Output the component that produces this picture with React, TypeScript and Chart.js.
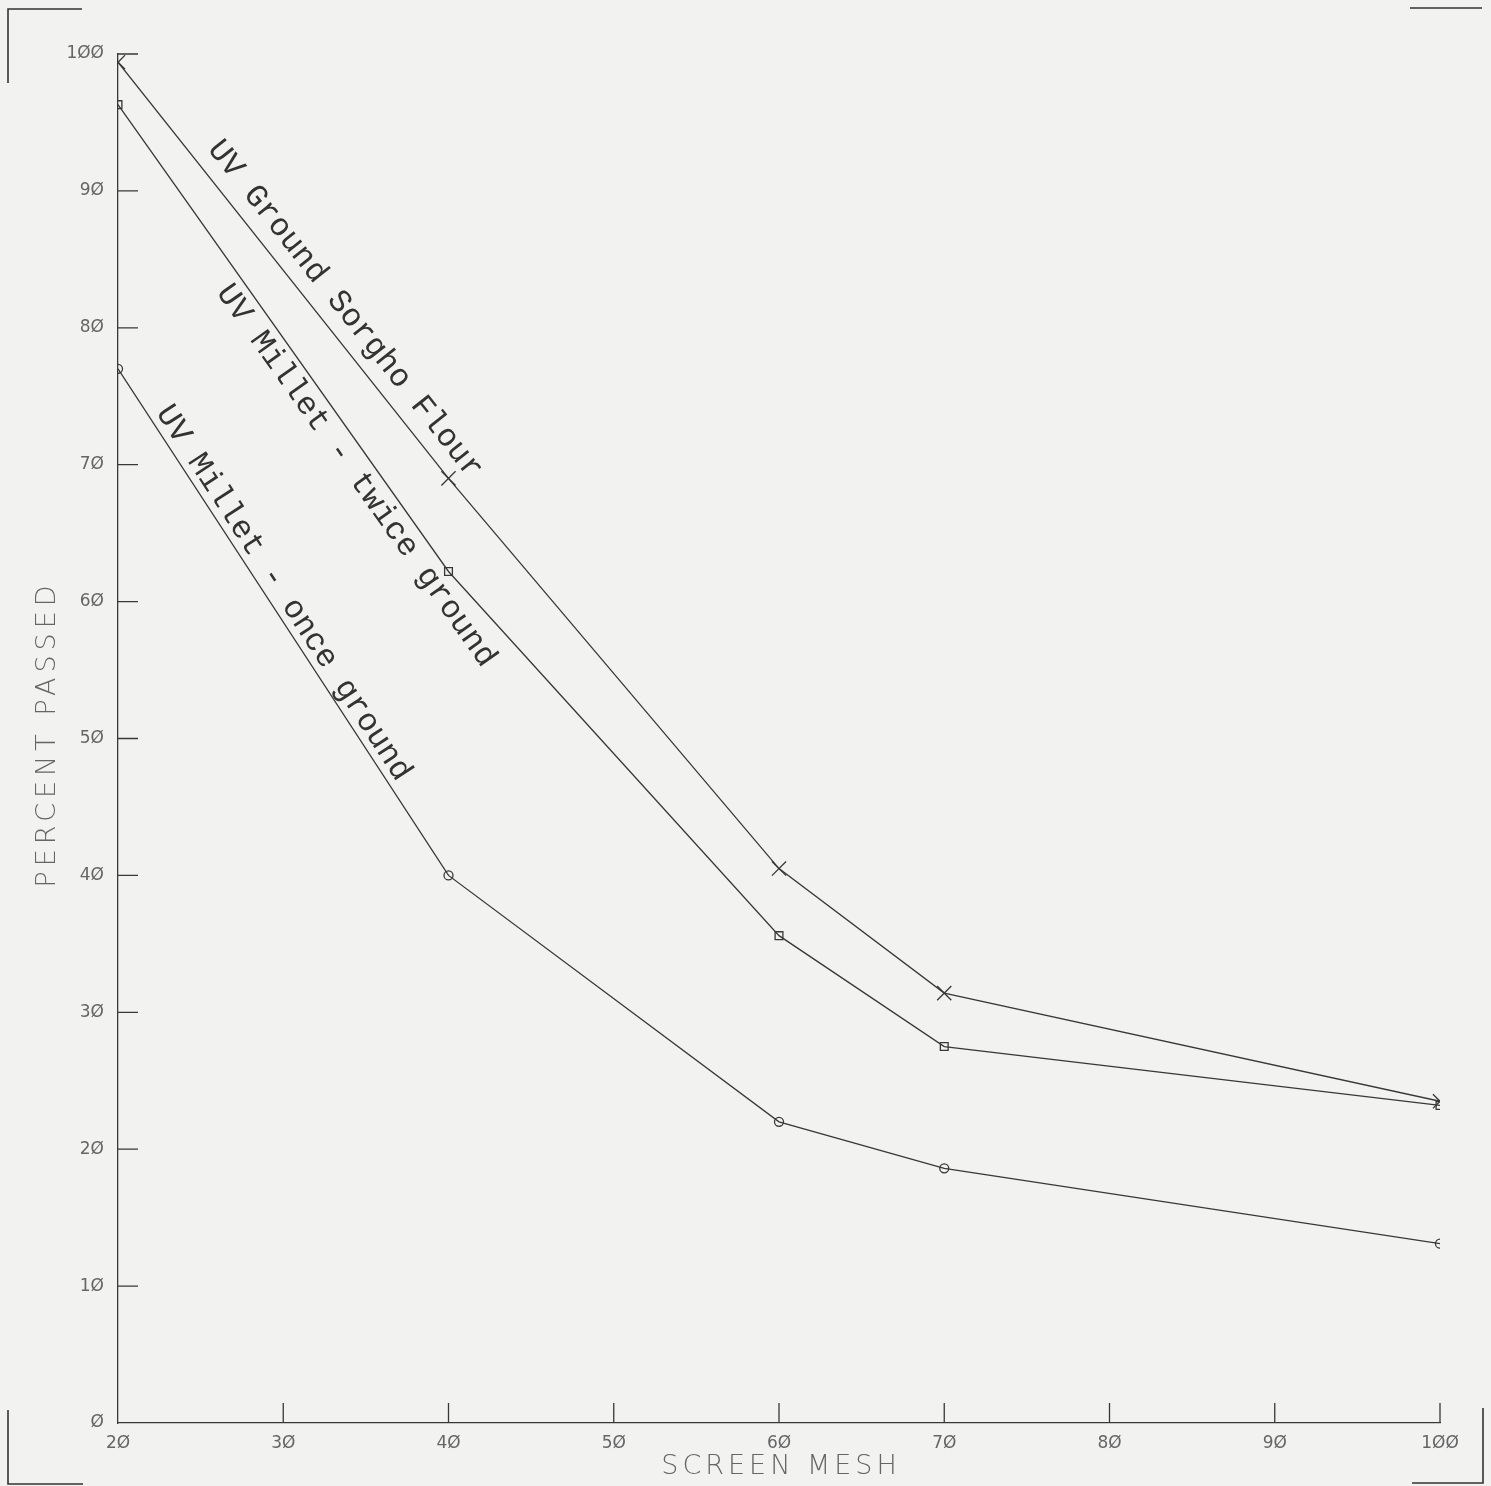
import { useEffect, useRef } from "react";
import { Chart, registerables } from "chart.js";

Chart.register(...registerables);

// ---- data ----
const meshSizes = [20, 40, 60, 70, 100];
const sorghoFlour = [99.4, 69.0, 40.5, 31.4, 23.5];
const milletTwice = [96.3, 62.2, 35.6, 27.5, 23.2];
const milletOnce = [77.0, 40.0, 22.0, 18.6, 13.1];
const xTickValues = [20, 30, 40, 50, 60, 70, 80, 90, 100];
const yTickValues = [0, 10, 20, 30, 40, 50, 60, 70, 80, 90, 100];
const seriesNames = ["UV Ground Sorgho Flour", "UV Millet - twice ground", "UV Millet - once ground"];
const xTitle = "SCREEN MESH";
const yTitle = "PERCENT PASSED";

const slashZero = (v: number) => String(v).replace(/0/g, "\u00D8");

const INK = "#383838";
const BG = "#f2f2f0";

// label placement along the first segment: fraction along, perpendicular offset (px, + = up-right)
const labelPlacement = [
  { frac: 0.63, offset: 24 },
  { frac: 0.77, offset: -20 },
  { frac: 0.46, offset: 16 },
];

const plotterPlugin = {
  id: "plotter",
  beforeDraw(chart: any) {
    const { ctx, width, height } = chart;
    ctx.save();
    ctx.fillStyle = BG;
    ctx.fillRect(0, 0, width, height);
    ctx.restore();
  },
  afterDraw(chart: any) {
    const { ctx, chartArea, scales } = chart;
    const xs = scales.x;
    const ys = scales.y;
    ctx.save();
    ctx.strokeStyle = INK;
    ctx.lineWidth = 1.3;
    // inward tick marks
    ctx.beginPath();
    yTickValues.forEach((v) => {
      if (v === 0) return;
      const y = ys.getPixelForValue(v);
      ctx.moveTo(chartArea.left, y);
      ctx.lineTo(chartArea.left + 20, y);
    });
    xTickValues.forEach((v) => {
      if (v === xTickValues[0]) return;
      const x = xs.getPixelForValue(v);
      ctx.moveTo(x, chartArea.bottom);
      ctx.lineTo(x, chartArea.bottom - 20);
    });
    ctx.stroke();

    // crop marks
    ctx.lineWidth = 1.6;
    ctx.strokeStyle = "#333";
    ctx.beginPath();
    ctx.moveTo(8, 83); ctx.lineTo(8, 9); ctx.lineTo(82, 9);
    ctx.moveTo(1410, 8); ctx.lineTo(1482, 8);
    ctx.moveTo(8, 1410); ctx.lineTo(8, 1484); ctx.lineTo(83, 1484);
    ctx.moveTo(1483, 1408); ctx.lineTo(1483, 1483); ctx.lineTo(1412, 1483);
    ctx.stroke();

    // axis titles
    ctx.fillStyle = "#666";
    ctx.font = "200 27px 'DejaVu Sans'";
    ctx.textAlign = "center";
    ctx.textBaseline = "middle";
    (ctx as any).letterSpacing = "4px";
    ctx.fillText(xTitle, (chartArea.left + chartArea.right) / 2 + 2, 1467);
    (ctx as any).letterSpacing = "5px";
    ctx.save();
    ctx.translate(48, 736);
    ctx.rotate(-Math.PI / 2);
    ctx.fillText(yTitle, 2, 0);
    ctx.restore();
    (ctx as any).letterSpacing = "0px";

    // series labels along lines
    ctx.fillStyle = "#333";
    ctx.font = "32px 'Liberation Mono'";
    chart.data.datasets.forEach((ds: any, i: number) => {
      const p = labelPlacement[i];
      const a = ds.data[0];
      const b = ds.data[1];
      const x0 = xs.getPixelForValue(a.x);
      const y0 = ys.getPixelForValue(a.y);
      const x1 = xs.getPixelForValue(b.x);
      const y1 = ys.getPixelForValue(b.y);
      const ang = Math.atan2(y1 - y0, x1 - x0);
      const cx = x0 + (x1 - x0) * p.frac + Math.sin(ang) * p.offset;
      const cy = y0 + (y1 - y0) * p.frac - Math.cos(ang) * p.offset;
      ctx.save();
      ctx.translate(cx, cy);
      ctx.rotate(ang);
      ctx.fillText(ds.label, 0, 0);
      ctx.restore();
    });
    ctx.restore();
  },
};

export default function App() {
  const ref = useRef<HTMLCanvasElement | null>(null);
  useEffect(() => {
    document.body.style.margin = "0";
    document.body.style.background = BG;
    const canvas = ref.current!;
    const toPts = (vals: number[]) => meshSizes.map((x, i) => ({ x, y: vals[i] }));
    const common = {
      borderColor: INK,
      borderWidth: 1.3,
      pointBorderColor: INK,
      pointBackgroundColor: "rgba(0,0,0,0)",
      pointBorderWidth: 1.3,
      tension: 0,
      fill: false,
    };
    const tickFont = { family: "DejaVu Sans", size: 17 };
    const chart = new Chart(canvas, {
      type: "line",
      data: {
        datasets: [
          { ...common, label: seriesNames[0], data: toPts(sorghoFlour), pointStyle: "crossRot", pointRadius: 10 },
          { ...common, label: seriesNames[1], data: toPts(milletTwice), pointStyle: "rect", pointRadius: 5.5 },
          { ...common, label: seriesNames[2], data: toPts(milletOnce), pointStyle: "circle", pointRadius: 4.5 },
        ],
      },
      options: {
        animation: false,
        responsive: false,
        devicePixelRatio: 1,
        layout: { padding: { top: 54, right: 51, bottom: 0, left: 0 } },
        plugins: { legend: { display: false }, tooltip: { enabled: false } },
        events: [],
        scales: {
          x: {
            type: "linear",
            min: 20,
            max: 100,
            afterBuildTicks: (s: any) => { s.ticks = xTickValues.map((v) => ({ value: v })); },
            afterFit: (s: any) => { s.height = 63; },
            grid: { display: false, drawTicks: false },
            border: { display: true, color: INK, width: 1.3 },
            ticks: {
              padding: 10,
              maxRotation: 0,
              autoSkip: false,
              color: "#666",
              font: tickFont,
              callback: (v: any) => slashZero(Number(v)),
            },
          },
          y: {
            type: "linear",
            min: 0,
            max: 100,
            afterBuildTicks: (s: any) => { s.ticks = yTickValues.map((v) => ({ value: v })); },
            afterFit: (s: any) => { s.width = 118; },
            grid: { display: false, drawTicks: false },
            border: { display: true, color: INK, width: 1.3 },
            ticks: {
              padding: 14,
              autoSkip: false,
              color: "#666",
              font: tickFont,
              callback: (v: any) => slashZero(Number(v)),
            },
          },
        },
      },
      plugins: [plotterPlugin],
    });
    return () => chart.destroy();
  }, []);
  return <canvas ref={ref} width={1491} height={1486} style={{ display: "block" }} />;
}
